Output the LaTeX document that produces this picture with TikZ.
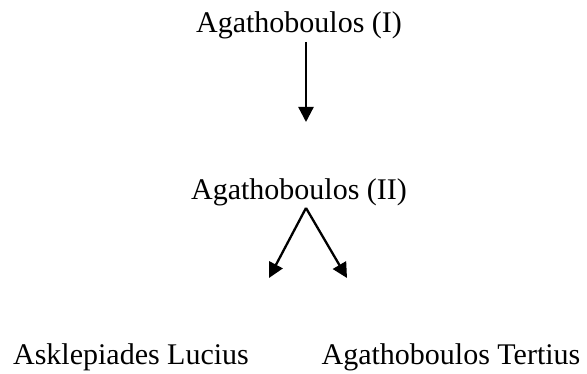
\documentclass[tikz,border=0pt]{standalone}
\usepackage{fontspec}
\setmainfont{Liberation Serif}
\usetikzlibrary{arrows.meta}
\begin{document}
\begin{tikzpicture}[x=1pt,y=1pt,
  label/.style={inner sep=0pt,anchor=base,font=\fontsize{30}{36}\selectfont},
  conn/.style={line width=2.3pt,-{Triangle[length=15pt,width=15pt]}}]
\useasboundingbox (0,0) rectangle (587,374);
\node[label] (t1) at (299,341) {Agathoboulos (I)};
\node[label] (t2) at (299,174) {Agathoboulos (II)};
\node[label] (t3) at (131,9) {Asklepiades Lucius};
\node[label] (t4) at (451,9) {Agathoboulos Tertius};
\coordinate (s1) at (306,332);
\coordinate (e1) at (306,252);
\coordinate (s2) at (306,166);
\coordinate (e2) at (269,96);
\coordinate (e3) at (347,96);
\draw[conn] (s1) -- (e1);
\draw[conn] (s2) -- (e2);
\draw[conn] (s2) -- (e3);
\end{tikzpicture}
\end{document}
